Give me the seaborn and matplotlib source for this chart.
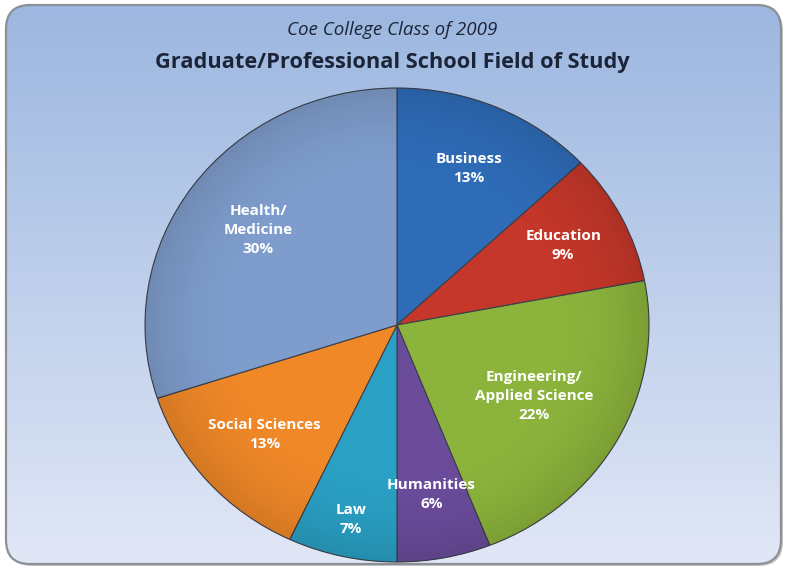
import numpy as np
import matplotlib
matplotlib.use("Agg")
import matplotlib.pyplot as plt
from matplotlib.patches import FancyBboxPatch, Ellipse
import seaborn as sns

# Field of study shares (percent), clockwise from 12 o'clock
fields = ["Business", "Education", "Engineering/\nApplied Science", "Humanities",
          "Law", "Social Sciences", "Health/\nMedicine"]
shares = [13, 9, 22, 6, 7, 13, 30]
colors = ["#2f6cb8", "#c5372a", "#8cb43c", "#6a4c9b", "#2aa0c4", "#f08828", "#7e9dcc"]
# radial placement of each label inside its wedge
label_radius = [0.72, 0.74, 0.62, 0.73, 0.84, 0.70, 0.68]

title_top = "Coe College Class of 2009"
title_main = "Graduate/Professional School Field of Study"

sns.set_theme(style="white")
plt.rcParams["font.family"] = ["Open Sans", "DejaVu Sans"]

W, H = 785, 569
fig = plt.figure(figsize=(W / 100, H / 100), dpi=100)
fig.patch.set_facecolor("white")

# background panel with vertical gradient and rounded corners
bg = fig.add_axes([0, 0, 1, 1])
bg.set_xlim(0, W)
bg.set_ylim(H, 0)
bg.axis("off")
x0, y0, x1, y1 = 6, 5, 781, 564
shadow = FancyBboxPatch((x0 + 2, y0 + 2), x1 - x0, y1 - y0,
                        boxstyle="round,pad=0,rounding_size=24",
                        facecolor="#a0a0a0", edgecolor="none", alpha=0.6, zorder=-2)
bg.add_patch(shadow)
fillpanel = FancyBboxPatch((x0, y0), x1 - x0, y1 - y0,
                           boxstyle="round,pad=0,rounding_size=24",
                           facecolor="#dde4f3", edgecolor="none", zorder=-1)
bg.add_patch(fillpanel)
top_c = np.array([156, 183, 224]) / 255
bot_c = np.array([225, 231, 246]) / 255
t = np.linspace(0, 1, 256)[:, None]
grad = top_c[None, None, :] * (1 - t[..., None]) + bot_c[None, None, :] * t[..., None]
grad = np.repeat(grad, 2, axis=1)
im = bg.imshow(grad, extent=(x0, x1, y1, y0), aspect="auto", zorder=0)
im.set_clip_path(fillpanel)
panel = FancyBboxPatch((x0, y0), x1 - x0, y1 - y0,
                       boxstyle="round,pad=0,rounding_size=24",
                       facecolor="none", edgecolor="#8c9096", linewidth=1.6, zorder=1)
bg.add_patch(panel)

bg.text(392, 30, title_top, ha="center", va="center", fontsize=13.5,
        style="italic", color="#1c2538")
bg.text(392, 62, title_main, ha="center", va="center", fontsize=15.7,
        fontweight="bold", color="#1c2538")

# pie axes: slightly squashed vertically
cx, cy, rx, ry = 397, 325, 252, 237
ax = fig.add_axes([(cx - rx) / W, (H - cy - ry) / H, 2 * rx / W, 2 * ry / H])
wedges, _ = ax.pie(shares, colors=colors, startangle=90, counterclock=False,
                   wedgeprops=dict(edgecolor="#3b3f48", linewidth=0.8))
ax.set_aspect("auto")
ax.set_xlim(-1, 1)
ax.set_ylim(-1, 1)
ax.axis("off")

# soft shading: slightly darker toward the rim
yy, xx = np.mgrid[-1:1:400j, -1:1:400j]
rr = np.sqrt(xx ** 2 + yy ** 2)
shade = np.zeros((400, 400, 4))
shade[..., 3] = np.clip((rr - 0.6) / 0.4, 0, 1) ** 2 * 0.12
sim = ax.imshow(shade, extent=(-1, 1, -1, 1), aspect="auto", zorder=3)
clip = Ellipse((0, 0), 2, 2, transform=ax.transData)
sim.set_clip_path(clip)

# labels at the mid-angle of each wedge
cum = np.cumsum([0] + shares[:-1])
total = sum(shares)
for name, s, c0, r in zip(fields, shares, cum, label_radius):
    mid = (c0 + s / 2) / total * 2 * np.pi
    x = r * np.sin(mid)
    y = r * np.cos(mid)
    ax.text(x, y, f"{name}\n{s}%", ha="center", va="center", fontsize=11,
            fontweight="bold", color="white", linespacing=1.45, zorder=5)

fig.savefig("out.png", dpi=100, facecolor="white")
